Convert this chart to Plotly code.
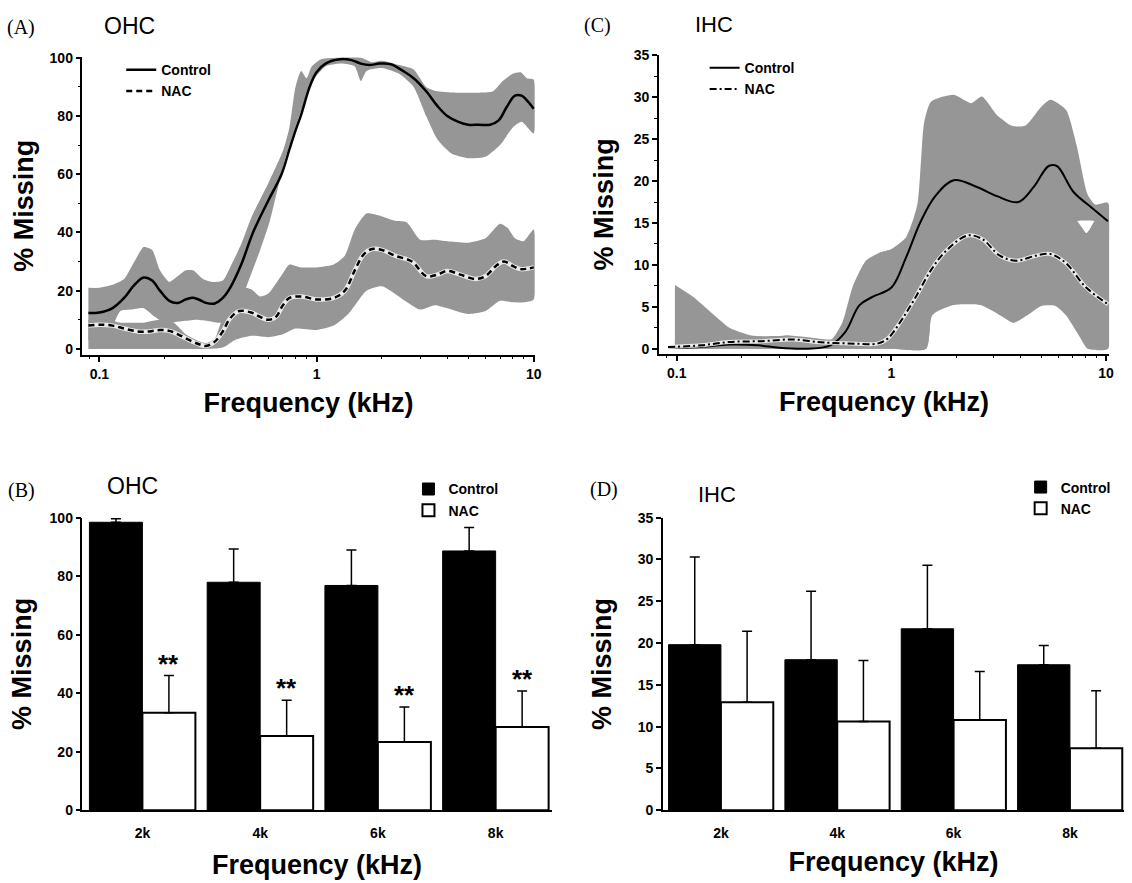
import plotly.graph_objects as go

# ---------------- DATA ----------------
# Panel A (OHC, cochleogram) -- frequency in kHz, % missing
a_ctrl_f = [0.089, 0.1, 0.115, 0.13, 0.145, 0.16, 0.175, 0.19, 0.21, 0.23, 0.25, 0.27, 0.29, 0.31, 0.34, 0.37,
            0.4, 0.45, 0.51, 0.6, 0.69, 0.75, 0.8, 0.85, 0.93, 1.0, 1.1, 1.28, 1.45, 1.6, 1.75, 1.95, 2.2, 2.5,
            2.8, 3.2, 3.6, 4.0, 4.5, 5.0, 5.6, 6.3, 6.9, 7.5, 8.2, 8.8, 9.4, 10.0]
a_ctrl_mean = [12.3, 12.5, 14, 17.5, 22, 24.5, 23.5, 20, 16.5, 15.8, 17, 17.6, 16.8, 15.8, 15.6, 17.5,
               21, 29, 40, 51, 60, 68.5, 75, 80.5, 90, 95, 98, 99.5, 99.2, 98, 97.5, 98, 97.8, 95.5,
               93, 88.5, 83.5, 80, 78, 77, 77, 77, 78.5, 83, 87, 87, 85, 82.5]
a_ctrl_up_f = [0.089, 0.1, 0.115, 0.13, 0.145, 0.16, 0.175, 0.19, 0.21, 0.23, 0.25, 0.27, 0.3, 0.33, 0.37, 0.4,
               0.45, 0.5, 0.6, 0.7, 0.75, 0.8, 0.85, 0.9, 0.95, 1.05, 1.3, 1.6, 1.8, 2.0, 2.4, 2.8, 3.2, 3.6,
               4.5, 5.5, 6.5, 7.2, 8.0, 8.7, 9.3, 10.0]
a_ctrl_up = [21, 21, 22, 24, 30, 35, 34, 27, 23, 25, 27, 27, 24, 23, 23.5, 28,
             36, 45, 57, 68, 76, 90, 95.5, 93, 97, 99.5, 100, 100, 98.5, 99, 97.5, 96, 90, 88.5,
             88, 88, 88.5, 92, 94.5, 95, 93, 92.5]
a_ctrl_lo_f = [0.089, 0.1, 0.115, 0.125, 0.14, 0.16, 0.18, 0.2, 0.24, 0.28, 0.32, 0.36, 0.4, 0.45, 0.49, 0.55,
               0.61, 0.71, 0.86, 0.96, 1.1, 1.3, 1.5, 1.6, 1.7, 2.0, 2.4, 2.8, 3.2, 3.6, 4.2, 5.0, 6.0, 7.0,
               8.0, 8.8, 10.0]
a_ctrl_lo = [3, 4, 8, 13, 13.5, 14, 11, 9, 9.5, 10, 9.5, 9, 12, 17, 24, 34,
             44, 64, 83, 92, 97, 98, 97, 92, 95.5, 96.5, 94.5, 90, 80, 72, 67, 65.5, 66, 70,
             76, 78, 74]

a_nac_f = [0.089, 0.1, 0.115, 0.13, 0.15, 0.17, 0.19, 0.21, 0.23, 0.26, 0.29, 0.31, 0.34, 0.37, 0.4, 0.44,
           0.5, 0.55, 0.6, 0.65, 0.7, 0.75, 0.85, 1.0, 1.2, 1.35, 1.5, 1.65, 1.8, 2.0, 2.3, 2.75, 3.2, 3.6,
           4.0, 4.6, 5.4, 6.0, 6.7, 7.3, 8.0, 8.7, 10.0]
a_nac_mean = [8, 8.3, 8, 7, 6, 6, 6.5, 6.2, 5, 3, 1.5, 1, 2.5, 6, 10.5, 13,
              12.5, 11, 10, 11, 15, 17.5, 18, 17, 17.5, 20, 27, 32.5, 34.3, 34, 32, 30, 25, 25.5,
              26.8, 25.5, 24, 25, 28.5, 30, 28.5, 27.4, 28]
a_nac_up_f = [0.089, 0.11, 0.125, 0.14, 0.16, 0.19, 0.22, 0.25, 0.28, 0.31, 0.34, 0.37, 0.4, 0.45, 0.5, 0.55,
              0.6, 0.7, 0.75, 0.85, 1.0, 1.2, 1.35, 1.5, 1.7, 2.0, 2.3, 2.6, 3.0, 3.5, 4.0, 5.0, 6.0, 7.0,
              7.6, 8.2, 9.0, 10.0]
a_nac_up = [10, 10, 9, 9, 9, 10, 9, 5, 3, 2, 3.5, 11, 16, 21, 20.5, 18,
            19, 26, 29, 28, 28, 29, 32, 41, 46.5, 45.5, 44, 43.5, 37.5, 37.5, 37, 36.5, 38, 43,
            41.5, 38, 37, 41]
a_nac_lo_f = [0.089, 0.2, 0.3, 0.37, 0.42, 0.5, 0.6, 0.7, 0.8, 1.0, 1.2, 1.4, 1.7, 2.0, 2.5, 3.0,
              3.5, 4.0, 5.0, 6.0, 7.0, 8.0, 9.0, 10.0]
a_nac_lo = [0, 0, 0, 0.5, 3, 4.5, 4, 5, 7, 6.5, 8, 12, 20, 21.5, 17, 13.5,
            15, 14, 12, 13, 16.5, 16, 16, 17]

# Panel C (IHC, cochleogram)
c_ctrl_f = [0.091, 0.13, 0.176, 0.24, 0.3, 0.41, 0.52, 0.61, 0.71, 0.82, 1.0, 1.17, 1.37, 1.6, 1.95, 2.5,
            3.1, 3.9, 4.6, 5.4, 5.9, 7.05, 8.6, 10.2]
c_ctrl_mean = [0.1, 0.2, 0.5, 0.4, 0.1, 0.0, 0.4, 2, 5.2, 6.2, 7.3, 10.9, 15.2, 18.2, 20.1, 19.3,
               18.2, 17.5, 19.3, 21.8, 21.8, 18.7, 16.8, 15.2]
c_ctrl_up_f = [0.098, 0.119, 0.145, 0.176, 0.22, 0.28, 0.33, 0.41, 0.52, 0.59, 0.66, 0.76, 0.89, 1.0, 1.17, 1.32,
               1.42, 1.53, 1.95, 2.35, 2.64, 3.1, 3.64, 4.2, 5.0, 5.5, 6.5, 7.3, 8.2, 8.9, 10.2]
c_ctrl_up = [7.6, 6.2, 4.3, 2.5, 1.6, 1.4, 1.6, 1.25, 1.0, 3.1, 7.4, 10.5, 11.5, 11.9, 13.3, 17.2,
             27, 29.5, 30.3, 29.3, 30.1, 27.9, 26.6, 26.6, 28.9, 29.7, 28.5, 24.2, 18.4, 17.2, 17.4]
c_ctrl_lo_f = [0.098, 0.5, 1.0, 1.45, 1.55, 2.0, 2.5, 3.0, 4.0, 5.0, 6.0, 7.0, 7.3, 8.0, 8.9, 9.3, 10.2]
c_ctrl_lo = [0, 0, 0, 0, 5, 9, 9, 8, 9, 11, 12, 13, 15.2, 15.3, 15.2, 13, 12]

c_nac_f = [0.091, 0.13, 0.176, 0.25, 0.35, 0.45, 0.52, 0.68, 0.86, 0.96, 1.12, 1.3, 1.53, 1.8, 2.26, 2.64,
           3.2, 3.8, 4.7, 5.5, 6.5, 8.0, 10.2]
c_nac_mean = [0.2, 0.4, 0.8, 0.9, 1.1, 0.8, 0.7, 0.6, 0.6, 1.2, 3.5, 6.2, 9.4, 11.7, 13.5, 13.1,
              11.1, 10.5, 11.1, 11.3, 10.2, 7.4, 5.3]
c_nac_up_f = [0.098, 0.2, 0.3, 0.4, 0.5, 0.7, 0.9, 1.0, 1.2, 1.5, 2.0, 2.5, 3.0, 4.0, 5.0, 6.0,
              6.5, 7.2, 7.7, 8.1, 8.5, 9.0, 10.2]
c_nac_up = [1.0, 1.4, 1.5, 1.4, 1.1, 1.2, 2.0, 3, 7, 14, 20, 21, 19, 17, 17.5, 17.5,
            17, 15.5, 14.5, 13.8, 14.5, 15.5, 15.5]
c_nac_lo_f = [0.098, 0.5, 1.0, 1.45, 1.55, 1.95, 2.6, 3.2, 3.7, 4.3, 5.0, 5.8, 6.5, 7.3, 8.0, 8.2, 10.2]
c_nac_lo = [0, 0, 0, 0, 4, 5.2, 5.2, 4, 3.1, 4, 5.1, 5.1, 4, 2, 0.3, 0, 0]

# Panels B and D (bar charts)
bar_cats = ["2k", "4k", "6k", "8k"]
b_ctrl = [98.4, 77.9, 76.8, 88.6]
b_ctrl_sd = [1.2, 11.4, 12.1, 8.0]
b_nac = [33.3, 25.4, 23.3, 28.4]
b_nac_sd = [12.7, 12.2, 12.0, 12.3]
b_sig = ["**", "**", "**", "**"]
d_ctrl = [19.8, 18.0, 21.7, 17.4]
d_ctrl_sd = [10.5, 8.2, 7.6, 2.3]
d_nac = [12.9, 10.6, 10.8, 7.4]
d_nac_sd = [8.5, 7.3, 5.8, 6.9]

# ---------------- STYLE / LAYOUT HELPERS ----------------
W, H = 1132, 883
def fx(p):
    return p / W
def fy(p):
    return 1 - p / H

BAND = "rgb(150,150,150)"
SANS = "Liberation Sans, Arial, sans-serif"
SERIF = "Liberation Serif, Times New Roman, serif"
BOLD = dict(family=SANS, color="black", weight="bold")
BARGAP = 0.1

fig = go.Figure()

def band(fu, u, fl, l, xa, ya):
    xs = list(fu) + list(fl)[::-1]
    ys = list(u) + list(l)[::-1]
    fig.add_trace(go.Scatter(x=xs, y=ys, fill="toself", fillcolor=BAND, mode="lines",
                             line=dict(width=0, shape="spline", smoothing=0.6),
                             xaxis=xa, yaxis=ya, showlegend=False, hoverinfo="skip"))

# Panel A
band(a_ctrl_up_f, a_ctrl_up, a_ctrl_lo_f, a_ctrl_lo, "x", "y")
band(a_nac_up_f, a_nac_up, a_nac_lo_f, a_nac_lo, "x", "y")
fig.add_trace(go.Scatter(x=a_ctrl_f, y=a_ctrl_mean, mode="lines", name="Control",
                         line=dict(color="black", width=2.5, shape="spline"),
                         xaxis="x", yaxis="y", legend="legend"))
fig.add_trace(go.Scatter(x=a_nac_f, y=a_nac_mean, mode="lines", showlegend=False,
                         line=dict(color="rgba(255,255,255,0.8)", width=4.5, shape="spline"),
                         xaxis="x", yaxis="y", hoverinfo="skip"))
fig.add_trace(go.Scatter(x=a_nac_f, y=a_nac_mean, mode="lines", name="NAC",
                         line=dict(color="black", width=2.5, dash="6px,4px", shape="spline"),
                         xaxis="x", yaxis="y", legend="legend"))

# Panel C
band(c_ctrl_up_f, c_ctrl_up, c_ctrl_lo_f, c_ctrl_lo, "x2", "y2")
band(c_nac_up_f, c_nac_up, c_nac_lo_f, c_nac_lo, "x2", "y2")
fig.add_trace(go.Scatter(x=c_ctrl_f, y=c_ctrl_mean, mode="lines", name="Control",
                         line=dict(color="black", width=2, shape="spline"),
                         xaxis="x2", yaxis="y2", legend="legend2"))
fig.add_trace(go.Scatter(x=c_nac_f, y=c_nac_mean, mode="lines", showlegend=False,
                         line=dict(color="rgba(255,255,255,0.8)", width=4, shape="spline"),
                         xaxis="x2", yaxis="y2", hoverinfo="skip"))
fig.add_trace(go.Scatter(x=c_nac_f, y=c_nac_mean, mode="lines", name="NAC",
                         line=dict(color="black", width=2, dash="7px,3px,2px,3px", shape="spline"),
                         xaxis="x2", yaxis="y2", legend="legend2"))

# Panels B and D
def bars(ctrl, ctrl_sd, nac, nac_sd, xa, ya, lg):
    fig.add_trace(go.Bar(x=bar_cats, y=ctrl, name="Control", marker=dict(color="black", line=dict(color="black", width=1)),
                         error_y=dict(type="data", array=ctrl_sd, arrayminus=[0] * len(ctrl_sd), symmetric=False,
                                      color="black", thickness=1.5, width=5),
                         xaxis=xa, yaxis=ya, legend=lg))
    fig.add_trace(go.Bar(x=bar_cats, y=nac, name="NAC", marker=dict(color="white", line=dict(color="black", width=2)),
                         error_y=dict(type="data", array=nac_sd, arrayminus=[0] * len(nac_sd), symmetric=False,
                                      color="black", thickness=1.5, width=5),
                         xaxis=xa, yaxis=ya, legend=lg))

bars(b_ctrl, b_ctrl_sd, b_nac, b_nac_sd, "x3", "y3", "legend3")
bars(d_ctrl, d_ctrl_sd, d_nac, d_nac_sd, "x4", "y4", "legend4")

annotations = []
off = (1 - BARGAP) / 4
for i, (m, s, t) in enumerate(zip(b_nac, b_nac_sd, b_sig)):
    annotations.append(dict(x=i + off, y=m + s, xref="x3", yref="y3", text=t, showarrow=False,
                            yanchor="bottom", yshift=-5, font=dict(size=26, **BOLD)))

# panel labels
for txt, cx, cy, fam, size in [("(A)", 21.5, 20, SERIF, 20), ("OHC", 130, 18.5, SANS, 23),
                               ("(C)", 601, 18, SERIF, 20), ("IHC", 718, 17, SANS, 22),
                               ("(B)", 21.5, 491.7, SERIF, 20), ("OHC", 133.5, 486.7, SANS, 23),
                               ("(D)", 607.5, 490, SERIF, 20), ("IHC", 721, 495, SANS, 22)]:
    annotations.append(dict(x=fx(cx), y=fy(cy), xref="paper", yref="paper", text=txt, showarrow=False,
                            xanchor="center", yanchor="middle", font=dict(family=fam, size=size, color="black")))

TICKF = dict(size=14, **BOLD)
TITLEF = dict(size=27, **BOLD)
AX = dict(showline=True, linecolor="black", linewidth=1.5, ticks="outside", tickcolor="black", tickwidth=1.5,
          showgrid=False, zeroline=False, tickfont=TICKF, fixedrange=True)

log_minor = [0.09, 0.2, 0.3, 0.4, 0.5, 0.6, 0.7, 0.8, 0.9, 2, 3, 4, 5, 6, 7, 8, 9]
LEGF = dict(size=14, **BOLD)

layout = dict(
    width=W, height=H, margin=dict(l=0, r=0, t=0, b=0), paper_bgcolor="white", plot_bgcolor="white",
    barmode="group", bargap=BARGAP, bargroupgap=0, showlegend=True,
    font=dict(family=SANS, color="black"),
    xaxis=dict(AX, domain=[fx(83), fx(538)], type="log", range=[-1.0778, 1.0046], anchor="y",
               tickmode="array", tickvals=[0.1, 1, 10], ticktext=["0.1", "1", "10"], ticklen=6,
               minor=dict(ticks="outside", ticklen=3, tickwidth=1.2, tickcolor="black", tickvals=log_minor),
               title=dict(text="Frequency (kHz)", font=TITLEF, standoff=12)),
    yaxis=dict(AX, domain=[fy(353), fy(50)], range=[-1.96, 100.24], anchor="x",
               tickmode="array", tickvals=[0, 20, 40, 60, 80, 100], ticklen=5,
               minor=dict(ticks="outside", ticklen=3, tickwidth=1.2, tickcolor="black", tickvals=[10, 30, 50, 70, 90]),
               title=dict(text="% Missing", font=TITLEF, standoff=8)),
    xaxis2=dict(AX, domain=[fx(663), fx(1116)], type="log", range=[-1.0833, 1.0139], anchor="y2",
                tickmode="array", tickvals=[0.1, 1, 10], ticktext=["0.1", "1", "10"], ticklen=6,
                minor=dict(ticks="outside", ticklen=3, tickwidth=1.2, tickcolor="black", tickvals=log_minor),
                title=dict(text="Frequency (kHz)", font=TITLEF, standoff=12)),
    yaxis2=dict(AX, domain=[fy(352), fy(48)], range=[-0.59, 35.03], anchor="x2",
                tickmode="array", tickvals=[0, 5, 10, 15, 20, 25, 30, 35], ticklen=5,
                minor=dict(ticks="outside", ticklen=3, tickwidth=1.2, tickcolor="black",
                           tickvals=[2.5, 7.5, 12.5, 17.5, 22.5, 27.5, 32.5]),
                title=dict(text="% Missing", font=TITLEF, standoff=12)),
    xaxis3=dict(AX, domain=[fx(83), fx(555)], type="category", range=[-0.509, 3.475], anchor="y3",
                ticks="outside", ticklen=9, tickcolor="rgba(0,0,0,0)",
                title=dict(text="Frequency (kHz)", font=TITLEF, standoff=15)),
    yaxis3=dict(AX, domain=[fy(817), fy(519)], range=[0, 100], anchor="x3",
                tickmode="array", tickvals=[0, 20, 40, 60, 80, 100], ticklen=5,
                title=dict(text="% Missing", font=TITLEF, standoff=10)),
    xaxis4=dict(AX, domain=[fx(667), fx(1131)], type="category", range=[-0.499, 3.465], anchor="y4",
                ticks="outside", ticklen=9, tickcolor="rgba(0,0,0,0)",
                title=dict(text="Frequency (kHz)", font=TITLEF, standoff=12)),
    yaxis4=dict(AX, domain=[fy(817), fy(519)], range=[0, 35], anchor="x4",
                tickmode="array", tickvals=[0, 5, 10, 15, 20, 25, 30, 35], ticklen=5,
                title=dict(text="% Missing", font=TITLEF, standoff=18)),
    legend=dict(x=fx(122), y=fy(47), xanchor="left", yanchor="top", bgcolor="rgba(0,0,0,0)",
                font=LEGF, tracegroupgap=0),
    legend2=dict(x=fx(709), y=fy(45), xanchor="left", yanchor="top", bgcolor="rgba(0,0,0,0)",
                 font=LEGF, tracegroupgap=0),
    legend3=dict(x=fx(411), y=fy(474), xanchor="left", yanchor="top", bgcolor="rgba(0,0,0,0)",
                 font=LEGF, tracegroupgap=0),
    legend4=dict(x=fx(1027), y=fy(472), xanchor="left", yanchor="top", bgcolor="rgba(0,0,0,0)",
                 font=LEGF, tracegroupgap=0),
    annotations=annotations,
)
fig.update_layout(**layout)
fig.write_html("out.html")
